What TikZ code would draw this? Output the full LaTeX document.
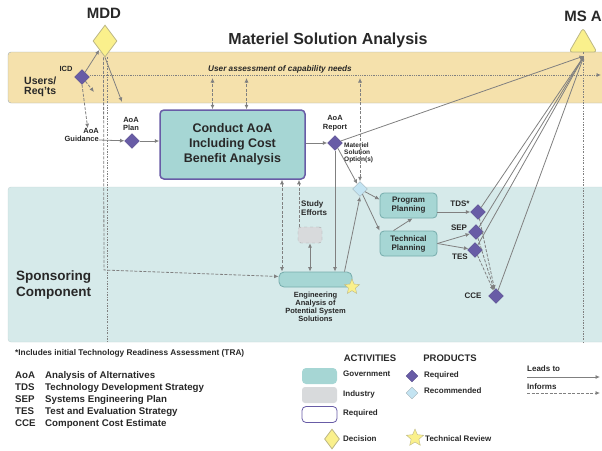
\documentclass[tikz,border=0pt]{standalone}
\usepackage{fontspec}
\setmainfont{Liberation Sans}
\usetikzlibrary{shapes.geometric,arrows.meta}
\definecolor{bandtan}{RGB}{245,225,172}
\definecolor{bandteal}{RGB}{214,234,234}
\definecolor{bandedge}{RGB}{160,172,178}
\definecolor{govteal}{RGB}{166,214,212}
\definecolor{govedge}{RGB}{118,172,172}
\definecolor{reqpurple}{RGB}{104,92,166}
\definecolor{recblue}{RGB}{196,228,242}
\definecolor{decyellow}{RGB}{250,240,140}
\definecolor{arrgray}{RGB}{128,128,128}
\definecolor{txtgray}{RGB}{40,40,40}
\definecolor{indgray}{RGB}{216,218,220}
\newcommand{\fsz}[2]{\fontsize{#1}{#2}\selectfont\bfseries}

\begin{document}
\begin{tikzpicture}[x=1pt,y=-1pt,
    leads/.style={draw=arrgray,line width=0.8pt,-{Latex[length=4.5pt,width=4pt]}},
    informs/.style={leads,dash pattern=on 3pt off 1.5pt},
    twoway/.style={{Latex[length=4.5pt,width=4pt]}-{Latex[length=4.5pt,width=4pt]}},
    dotline/.style={draw=arrgray,line width=0.6pt,dash pattern=on 2pt off 1.5pt on 0.5pt off 1.5pt},
    reqd/.style={diamond,fill=reqpurple,draw=reqpurple!85!black,minimum width=15pt,minimum height=15pt,inner sep=0pt},
    recd/.style={reqd,fill=recblue,draw=recblue!50!gray},
    decision/.style={diamond,fill=decyellow,draw=decyellow!50!gray,line width=0.8pt,minimum width=24pt,minimum height=32pt,inner sep=0pt},
    review/.style={star,star points=5,star point ratio=2.2,minimum size=16pt,inner sep=0pt,fill=decyellow,draw=decyellow!50!gray},
    govbox/.style={rounded corners=4pt,fill=govteal,draw=govedge,line width=0.8pt,text=txtgray,align=center},
    indbox/.style={rounded corners=3pt,fill=indgray,draw=arrgray!70,dashed},
    lbl/.style={text=txtgray,font=\fsz{7.5}{8},align=center,inner sep=0pt}]
  \useasboundingbox (0,0) rectangle (602,450);
  \clip (0,0) rectangle (602,450);

  % swim lanes
  \filldraw[fill=bandtan,draw=bandedge,rounded corners=3pt] (8,52) rectangle (620,103);
  \filldraw[fill=bandteal,draw=bandteal!80!gray,rounded corners=3pt] (8,187) rectangle (620,342);
  \node[lbl,font=\fsz{10.5}{10},align=left,anchor=west] (users) at (24,87) {Users/\\Req'ts};
  \node[lbl,font=\fsz{13.5}{16},align=left,anchor=west] (spons) at (16,285) {Sponsoring\\Component};

  \node[lbl,font=\fsz{16}{18}] (title) at (328,40) {Materiel Solution Analysis};
  \node[lbl,font=\fsz{15}{15}] (mddlab) at (104,13) {MDD};
  \node[decision] (mdd) at (105,41) {};
  \node[lbl,font=\fsz{15}{15}] (msalab) at (583,16) {MS A};
  \node[regular polygon,regular polygon sides=3,minimum size=32pt,rounded corners=3pt,
        fill=decyellow,draw=decyellow!50!gray,line width=0.8pt] (msa) at (583,44) {};
  \coordinate (msain) at (584,56);

  % user needs
  \node[reqd] (icd) at (82,77) {};
  \node[lbl] (icdlab) at (66,69) {ICD};
  \coordinate (needs) at (90,75);
  \coordinate (needsend) at (601,75);
  \draw[leads,densely dotted] (needs) -- (needsend);
  \node[lbl,font=\fsz{8.2}{9}\itshape,fill=bandtan,inner sep=1pt] (needlab) at (280,69) {User assessment of capability needs};
  \coordinate (icdx) at (94,92);
  \coordinate (mddx) at (122,102);
  \draw[leads] (icd) -- (mdd);
  \draw[informs] (icd) -- (icdx);
  \draw[leads] (mdd.south) -- (mddx);

  % AoA
  \node[lbl,align=right,anchor=east] (guid) at (99,135) {AoA\\Guidance};
  \node[reqd] (plan) at (132,141) {};
  \node[lbl,font=\fsz{7.5}{8.5}] (planlab) at (131,124) {AoA\\Plan};
  \node[govbox,draw=reqpurple,line width=1.5pt,minimum width=145pt,minimum height=69pt,
        font=\fsz{12.5}{15}] (conduct) at (232.5,144.5) {Conduct AoA\\Including Cost\\Benefit Analysis};
  \node[reqd] (rep) at (335,143) {};
  \node[lbl,font=\fsz{7.5}{8.5}] (replab) at (335,123) {AoA\\Report};
  \node[lbl,font=\fsz{6.5}{7},align=left,anchor=north west] (msolab) at (344,143) {Materiel\\Solution\\Option(s)};
  \node[recd] (opt) at (360,189) {};

  \draw[informs] (icd.south) -- ([xshift=6pt]guid.north);
  \draw[leads] ([yshift=-5pt]guid.east) -- (plan);
  \draw[leads] (plan) -- (conduct.west |- plan);
  \draw[leads] (conduct.east |- rep) -- (rep);
  \draw[informs,twoway] ([xshift=-20pt]conduct.north) -- ([xshift=-20pt,yshift=-3pt]conduct.north |- needs);
  \draw[informs,twoway] ([xshift=14pt]conduct.north) -- ([xshift=14pt,yshift=-3pt]conduct.north |- needs);
  \draw[informs,twoway] (opt.north) -- ([yshift=-3pt]opt.north |- needs);
  \draw[leads] (rep) -- (opt);

  % sponsor work
  \node[govbox,minimum width=73pt,minimum height=15pt,rounded corners=5pt] (eng) at (315.5,279.5) {};
  \node[lbl,below=4pt] (englab) at (eng.south) {Engineering\\Analysis of\\Potential System\\Solutions};
  \node[review] (engstar) at (352,287) {};
  \node[indbox,minimum width=24pt,minimum height=16pt] (ind) at (310,235) {};
  \node[lbl,font=\fsz{8}{9},align=left,anchor=west] (studylab) at (301,208) {Study\\Efforts};
  \coordinate (mddturn) at (104,270);
  \draw[dotline] ([xshift=2pt]mdd.south) -- ++(0,286);
  \draw[dotline] (msa.south) -- ++(0,291);
  \draw[informs] ([xshift=-1.5pt]mdd.south) -- (mddturn) -- ([yshift=3pt]eng.west);
  \draw[informs,twoway] ([xshift=-33.5pt]eng.north) -- ([xshift=-33.5pt]eng.north |- conduct.south);
  \draw[informs] ([xshift=-11pt]ind.north) -- ([xshift=-11pt]ind.north |- conduct.south);
  \draw[leads,twoway] (ind.south) -- (ind.south |- eng.north);
  \draw[leads] (rep.south) -- (rep |- eng.north);
  \draw[leads] ([xshift=29pt]eng.north) -- (opt.south);

  \node[govbox,minimum width=57pt,minimum height=25pt,font=\fsz{8}{9}] (prog) at (408.5,205.5) {Program\\Planning};
  \node[govbox,minimum width=57pt,minimum height=25pt,font=\fsz{8}{9}] (tech) at (408.5,243.5) {Technical\\Planning};
  \draw[leads] (opt) -- ([yshift=6pt]prog.west);
  \draw[leads] (opt) -- (tech.north west);
  \draw[leads] ([xshift=-15pt]tech.north) -- ([xshift=4pt]prog.south);

  % products
  \node[reqd] (tds) at (478,212) {};
  \node[reqd] (sep) at (476,232) {};
  \node[reqd] (tes) at (475,250) {};
  \node[reqd] (cce) at (496,296) {};
  \node[lbl,font=\fsz{8}{8}] (tdslab) at (460,204) {TDS*};
  \node[lbl,font=\fsz{8}{8}] (seplab) at (459,228) {SEP};
  \node[lbl,font=\fsz{8}{8}] (teslab) at (460,257) {TES};
  \node[lbl,font=\fsz{8}{8}] (ccelab) at (473,296) {CCE};
  \draw[leads] (prog.east |- tds) -- (tds);
  \draw[leads] (tech.east) -- (sep);
  \draw[leads] (tech.east) -- (tes);
  \foreach \p in {tds,sep,tes}
    \draw[informs] (\p) -- (cce);
  \foreach \p in {rep,tds,sep,tes,cce}
    \draw[leads] (\p) -- (msain);

  % notes
  \node[lbl,font=\fsz{8.3}{9},anchor=west] (foot) at (15,353) {*Includes initial Technology Readiness Assessment (TRA)};
  \foreach \ab/\txt [count=\k] in {AoA/Analysis of Alternatives,TDS/Technology Development Strategy,
      SEP/Systems Engineering Plan,TES/Test and Evaluation Strategy,CCE/Component Cost Estimate}
  {
    \node[lbl,font=\fsz{9.7}{10},anchor=base west] (ab\k) at (15,366+12*\k) {\ab};
    \node[lbl,font=\fsz{9.7}{10},anchor=base west] (def\k) at (45,366+12*\k) {\txt};
  }

  % legend
  \node[lbl,font=\fsz{9.5}{10}] (actlab) at (370,358) {ACTIVITIES};
  \node[lbl,font=\fsz{9.5}{10}] (prodlab) at (450,358) {PRODUCTS};
  \node[govbox,draw=none,minimum width=35pt,minimum height=16pt] (lgov) at (319.5,376) {};
  \node[indbox,draw=none,minimum width=35pt,minimum height=16pt] (lind) at (319.5,395) {};
  \node[govbox,fill=white,draw=reqpurple,minimum width=35pt,minimum height=16pt] (lreq) at (319.5,414.5) {};
  \node[lbl,font=\fsz{8}{8},anchor=west] (lgovlab) at (343,374) {Government};
  \node[lbl,font=\fsz{8}{8},anchor=west] (lindlab) at (343,394) {Industry};
  \node[lbl,font=\fsz{8}{8},anchor=west] (lreqlab) at (343,413) {Required};
  \node[reqd,minimum width=12pt,minimum height=12pt] (lprq) at (412,376) {};
  \node[recd,minimum width=12pt,minimum height=12pt] (lprc) at (412,393) {};
  \node[lbl,font=\fsz{8}{8},anchor=west] (lprqlab) at (424,375) {Required};
  \node[lbl,font=\fsz{8}{8},anchor=west] (lprclab) at (424,391) {Recommended};
  \node[lbl,font=\fsz{8}{8},anchor=west] (lleadlab) at (527,369) {Leads to};
  \node[lbl,font=\fsz{8}{8},anchor=west] (linflab) at (527,387) {Informs};
  \coordinate (llead1) at (527,377);
  \coordinate (llead2) at (600,377);
  \coordinate (linf1) at (527,393);
  \coordinate (linf2) at (600,393);
  \draw[leads] (llead1) -- (llead2);
  \draw[informs] (linf1) -- (linf2);
  \node[decision,minimum width=15pt,minimum height=20pt] (ldec) at (332,439) {};
  \node[lbl,font=\fsz{8}{8},anchor=west] (ldeclab) at (343,439) {Decision};
  \node[review,minimum size=18pt] (lrev) at (415,438) {};
  \node[lbl,font=\fsz{8}{8},anchor=west] (lrevlab) at (425,439) {Technical Review};
\end{tikzpicture}
\end{document}
